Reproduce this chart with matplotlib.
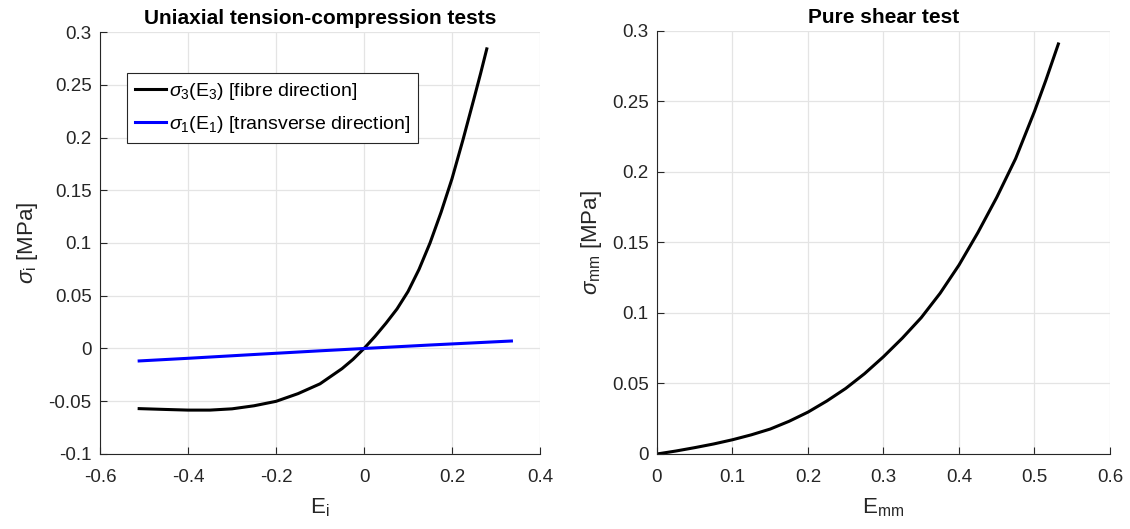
import matplotlib
matplotlib.use('Agg')
import matplotlib.pyplot as plt

plt.rcParams['font.family'] = ['Liberation Sans', 'DejaVu Sans']
plt.rcParams['mathtext.fontset'] = 'custom'
plt.rcParams['mathtext.rm'] = 'Liberation Sans'
plt.rcParams['mathtext.it'] = 'Liberation Sans:italic'
plt.rcParams['axes.unicode_minus'] = False

# uniaxial test, fibre direction (black)
e3 = [-0.511, -0.45, -0.40, -0.35, -0.30, -0.25, -0.20, -0.15, -0.10, -0.05, -0.025,
      0.0, 0.025, 0.05, 0.075, 0.10, 0.125, 0.15, 0.175, 0.20, 0.225,
      0.25, 0.265, 0.279]
s3 = [-0.057, -0.0578, -0.0584, -0.0584, -0.0572, -0.0543, -0.0501, -0.0428, -0.0335, -0.0191, -0.0103,
      0.0, 0.0115, 0.024, 0.0375, 0.054, 0.075, 0.100, 0.129, 0.161, 0.198,
      0.237, 0.2608, 0.284]

# uniaxial test, transverse direction (blue)
e1 = [-0.511, -0.40, -0.25, -0.10, 0.0, 0.15, 0.335]
s1 = [-0.0118, -0.0093, -0.0057, -0.0022, 0.0, 0.0033, 0.0071]

# pure shear test
emm = [0.0, 0.025, 0.05, 0.075, 0.10, 0.125, 0.15, 0.175, 0.20, 0.225, 0.25, 0.275,
       0.30, 0.325, 0.35, 0.375, 0.40, 0.425, 0.45, 0.475, 0.50, 0.515, 0.5316]
smm = [0.0, 0.0021, 0.0045, 0.0071, 0.0101, 0.0136, 0.0177, 0.0232, 0.0297, 0.0376, 0.0465, 0.0570,
       0.0690, 0.0822, 0.0967, 0.1140, 0.1340, 0.1570, 0.1820, 0.2095, 0.2430, 0.2650, 0.2908]

xt1 = [-0.6, -0.4, -0.2, 0, 0.2, 0.4]
yt1 = [-0.1, -0.05, 0, 0.05, 0.1, 0.15, 0.2, 0.25, 0.3]
xt2 = [0, 0.1, 0.2, 0.3, 0.4, 0.5, 0.6]
yt2 = [0, 0.05, 0.1, 0.15, 0.2, 0.25, 0.3]

axcol = '#262626'


def style(ax, xt, yt):
    ax.spines['top'].set_visible(False)
    ax.spines['right'].set_visible(False)
    for s in ['left', 'bottom']:
        ax.spines[s].set_color(axcol)
        ax.spines[s].set_linewidth(0.8)
    ax.set_xticks(xt)
    ax.set_yticks(yt)
    ax.set_xticklabels(['%g' % v for v in xt])
    ax.set_yticklabels(['%g' % v for v in yt])
    ax.set_xlim(xt[0], xt[-1])
    ax.set_ylim(yt[0], yt[-1])
    ax.tick_params(direction='in', length=5, width=0.8, colors=axcol, labelsize=13.5)
    ax.tick_params(axis='x', pad=11)
    ax.tick_params(axis='y', pad=6)
    ax.grid(True, color='#e4e4e4', linewidth=0.9)
    ax.set_axisbelow(True)


fig = plt.figure(figsize=(11.3, 5.29), dpi=100)
ax1 = fig.add_axes([0.0885, 0.1418, 0.3894, 0.7977])
ax2 = fig.add_axes([0.5814, 0.1418, 0.4009, 0.7996])

ax1.plot(e3, s3, color='black', lw=2.2, label=r'$\sigma_3$(E$_3$) [fibre direction]')
ax1.plot(e1, s1, color='#0000ff', lw=2.2, label=r'$\sigma_1$(E$_1$) [transverse direction]')
style(ax1, xt1, yt1)
ax1.set_title('Uniaxial tension-compression tests', fontsize=15, fontweight='bold', pad=6)
ax1.set_xlabel(r'E$_\mathrm{i}$', fontsize=16, color=axcol, labelpad=7)
ax1.set_ylabel(r'$\sigma_\mathrm{i}$ [MPa]', fontsize=16, color=axcol, labelpad=6)
leg = ax1.legend(loc='upper left', bbox_to_anchor=(0.062, 0.902), borderaxespad=0,
                 fontsize=14, handlelength=1.6, handletextpad=0.15, borderpad=0.4,
                 labelspacing=0.6, fancybox=False, framealpha=1)
leg.get_frame().set_edgecolor(axcol)
leg.get_frame().set_linewidth(0.8)

ax2.plot(emm, smm, color='black', lw=2.2)
style(ax2, xt2, yt2)
ax2.set_title('Pure shear test', fontsize=15, fontweight='bold', pad=6)
ax2.set_xlabel(r'E$_\mathrm{mm}$', fontsize=16, color=axcol, labelpad=7)
ax2.set_ylabel(r'$\sigma_\mathrm{mm}$ [MPa]', fontsize=16, color=axcol, labelpad=6)

fig.savefig('out.png', dpi=100)
